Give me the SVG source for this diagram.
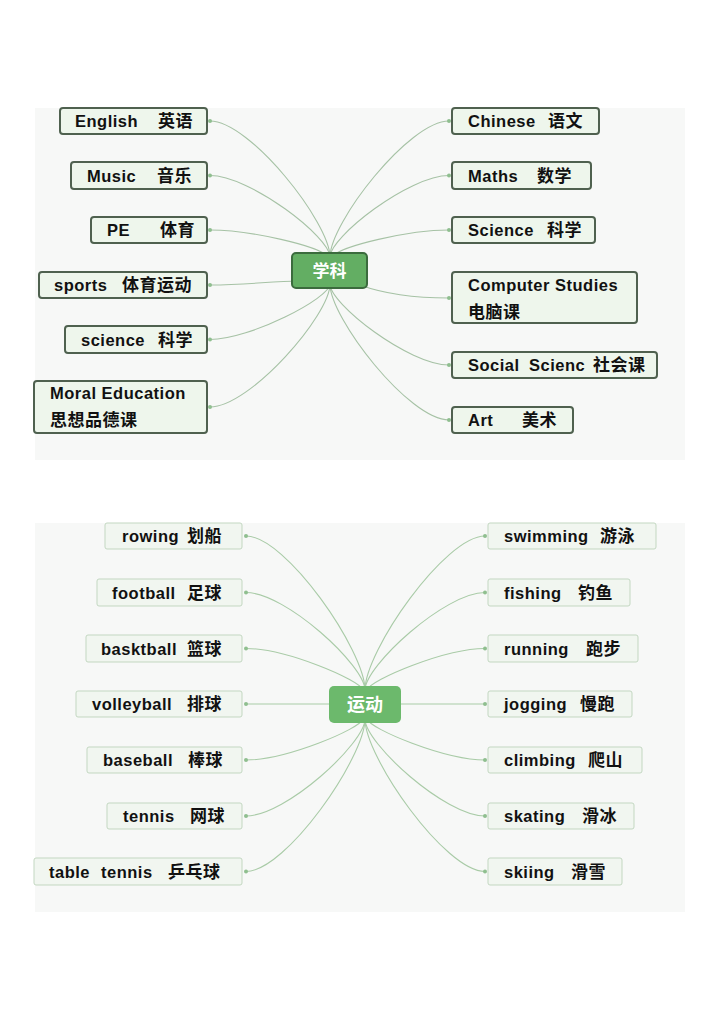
<svg xmlns="http://www.w3.org/2000/svg" width="720" height="1018" viewBox="0 0 720 1018">
<style>
.bg{fill:#f7f8f7}
.n1{fill:#eef6ec;stroke:#4f614f;stroke-width:2}
.n2{fill:#f1f6f0;stroke:#c3d7c1;stroke-width:1}
.t{font-family:"Liberation Sans","Noto Sans CJK SC",sans-serif;font-weight:bold;font-size:16.5px;letter-spacing:0.5px;fill:#111}
.cn{font-family:"Noto Sans CJK SC","Liberation Sans",sans-serif;font-weight:bold;font-size:17px;letter-spacing:0.5px;fill:#111}
.ct{font-family:"Noto Sans CJK SC",sans-serif;font-weight:bold;fill:#fff;text-anchor:middle}
.c1{fill:none;stroke:#a6c2a5;stroke-width:1.1}
.c2{fill:none;stroke:#a9cba7;stroke-width:1.1}
.d{fill:#8fbf8f}
</style>
<rect width="720" height="1018" fill="#ffffff"/>
<rect class="bg" x="35" y="108" width="650" height="352"/>
<rect class="bg" x="35" y="523" width="650" height="389"/>

<g id="connectors">
<path class="c1" d="M210,121 C250,121 330,223 330,257"/>
<path class="c1" d="M210,175.5 C250,175.5 330,237 330,257"/>
<path class="c1" d="M210,230 C250,230 320,246 328,257"/>
<path class="c1" d="M210,285 C250,285 270,281 300,281"/>
<path class="c1" d="M210,339.5 C250,339.5 330,298 330,284"/>
<path class="c1" d="M210,407 C250,407 330,315 330,284"/>
<path class="c1" d="M449,121 C409,121 330,223 330,257"/>
<path class="c1" d="M449,175.5 C409,175.5 330,237 330,257"/>
<path class="c1" d="M449,230 C409,230 340,246 332,257"/>
<path class="c1" d="M449,298 C420,298 390,296 360,285"/>
<path class="c1" d="M449,365 C409,365 330,304 330,284"/>
<path class="c1" d="M449,420 C409,420 330,318 330,284"/>
<circle class="d" cx="210" cy="121" r="2"/>
<circle class="d" cx="210" cy="175.5" r="2"/>
<circle class="d" cx="210" cy="230" r="2"/>
<circle class="d" cx="210" cy="285" r="2"/>
<circle class="d" cx="210" cy="339.5" r="2"/>
<circle class="d" cx="210" cy="407" r="2"/>
<circle class="d" cx="449" cy="121" r="2"/>
<circle class="d" cx="449" cy="175.5" r="2"/>
<circle class="d" cx="449" cy="230" r="2"/>
<circle class="d" cx="449" cy="298" r="2"/>
<circle class="d" cx="449" cy="365" r="2"/>
<circle class="d" cx="449" cy="420" r="2"/>

<path class="c2" d="M246,536 C286,536 365,651 365,690"/>
<path class="c2" d="M246,592.5 C286,592.5 365,666 365,690"/>
<path class="c2" d="M246,648.5 C286,648.5 360,680 363,690"/>
<path class="c2" d="M246,704 L333,704"/>
<path class="c2" d="M246,760 C286,760 360,729 363,719"/>
<path class="c2" d="M246,816 C286,816 365,743 365,719"/>
<path class="c2" d="M246,871.5 C286,871.5 365,757 365,719"/>
<path class="c2" d="M485,536 C445,536 365,651 365,690"/>
<path class="c2" d="M485,592.5 C445,592.5 365,666 365,690"/>
<path class="c2" d="M485,648.5 C445,648.5 370,680 367,690"/>
<path class="c2" d="M485,704 L397,704"/>
<path class="c2" d="M485,760 C445,760 370,729 367,719"/>
<path class="c2" d="M485,816 C445,816 365,743 365,719"/>
<path class="c2" d="M485,871.5 C445,871.5 365,757 365,719"/>
<circle class="d" cx="246" cy="536" r="2"/>
<circle class="d" cx="246" cy="592.5" r="2"/>
<circle class="d" cx="246" cy="648.5" r="2"/>
<circle class="d" cx="246" cy="704" r="2"/>
<circle class="d" cx="246" cy="760" r="2"/>
<circle class="d" cx="246" cy="816" r="2"/>
<circle class="d" cx="246" cy="871.5" r="2"/>
<circle class="d" cx="485" cy="536" r="2"/>
<circle class="d" cx="485" cy="592.5" r="2"/>
<circle class="d" cx="485" cy="648.5" r="2"/>
<circle class="d" cx="485" cy="704" r="2"/>
<circle class="d" cx="485" cy="760" r="2"/>
<circle class="d" cx="485" cy="816" r="2"/>
<circle class="d" cx="485" cy="871.5" r="2"/>
</g>

<g id="xueke">
<rect x="292" y="253" width="75" height="35" rx="4" fill="#63ae63" stroke="#3b6b3d" stroke-width="2"/>
<text class="ct" x="329.5" y="276.5" font-size="17">学科</text>
</g>

<g id="english"><rect class="n1" x="60" y="108" width="147" height="26" rx="3"/><text class="t" x="75" y="127">English</text><text class="cn" x="158" y="127">英语</text></g>
<g id="music"><rect class="n1" x="71" y="162" width="136" height="27" rx="3"/><text class="t" x="87" y="181.5">Music</text><text class="cn" x="157" y="181.5">音乐</text></g>
<g id="pe"><rect class="n1" x="91" y="217" width="116" height="26" rx="3"/><text class="t" x="107" y="236">PE</text><text class="cn" x="160" y="236">体育</text></g>
<g id="sports"><rect class="n1" x="39" y="272" width="168" height="26" rx="3"/><text class="t" x="54" y="291">sports</text><text class="cn" x="122" y="291">体育运动</text></g>
<g id="science-l"><rect class="n1" x="65" y="326" width="142" height="27" rx="3"/><text class="t" x="81" y="345.5">science</text><text class="cn" x="158" y="345.5">科学</text></g>
<g id="moral"><rect class="n1" x="34" y="381" width="173" height="52" rx="3"/><text class="t" x="50" y="399">Moral Education</text><text class="cn" x="50" y="426">思想品德课</text></g>

<g id="chinese"><rect class="n1" x="452" y="108" width="147" height="26" rx="3"/><text class="t" x="468" y="127">Chinese</text><text class="cn" x="548" y="127">语文</text></g>
<g id="maths"><rect class="n1" x="452" y="162" width="139" height="27" rx="3"/><text class="t" x="468" y="181.5">Maths</text><text class="cn" x="537" y="181.5">数学</text></g>
<g id="science-r"><rect class="n1" x="452" y="217" width="143" height="26" rx="3"/><text class="t" x="468" y="236">Science</text><text class="cn" x="547" y="236">科学</text></g>
<g id="computer"><rect class="n1" x="452" y="272" width="185" height="51" rx="3"/><text class="t" x="468" y="291">Computer Studies</text><text class="cn" x="468" y="318">电脑课</text></g>
<g id="social"><rect class="n1" x="452" y="352" width="205" height="26" rx="3"/><text class="t" x="468" y="371">Social</text><text class="t" x="529" y="371">Scienc</text><text class="cn" x="593" y="371">社会课</text></g>
<g id="art"><rect class="n1" x="452" y="407" width="121" height="26" rx="3"/><text class="t" x="468" y="426">Art</text><text class="cn" x="522" y="426">美术</text></g>

<g id="yundong">
<rect x="329" y="686" width="72" height="37" rx="5" fill="#6cb96c"/>
<text class="ct" x="365" y="710.5" font-size="18">运动</text>
</g>

<g id="rowing"><rect class="n2" x="105" y="523" width="137" height="26" rx="2"/><text class="t" x="122" y="542">rowing</text><text class="cn" x="187" y="542">划船</text></g>
<g id="football"><rect class="n2" x="97" y="579" width="145" height="27" rx="2"/><text class="t" x="112" y="598.5">football</text><text class="cn" x="187" y="598.5">足球</text></g>
<g id="basktball"><rect class="n2" x="86" y="635" width="156" height="27" rx="2"/><text class="t" x="101" y="654.5">basktball</text><text class="cn" x="187" y="654.5">篮球</text></g>
<g id="volleyball"><rect class="n2" x="76" y="691" width="166" height="26" rx="2"/><text class="t" x="92" y="710">volleyball</text><text class="cn" x="187" y="710">排球</text></g>
<g id="baseball"><rect class="n2" x="87" y="747" width="155" height="26" rx="2"/><text class="t" x="103" y="766">baseball</text><text class="cn" x="188" y="766">棒球</text></g>
<g id="tennis"><rect class="n2" x="107" y="803" width="135" height="26" rx="2"/><text class="t" x="123" y="822">tennis</text><text class="cn" x="190" y="822">网球</text></g>
<g id="tabletennis"><rect class="n2" x="34" y="858" width="208" height="27" rx="2"/><text class="t" x="49" y="877.5">table</text><text class="t" x="101" y="877.5">tennis</text><text class="cn" x="168" y="877.5">乒乓球</text></g>

<g id="swimming"><rect class="n2" x="488" y="523" width="168" height="26" rx="2"/><text class="t" x="504" y="542">swimming</text><text class="cn" x="600" y="542">游泳</text></g>
<g id="fishing"><rect class="n2" x="488" y="579" width="142" height="27" rx="2"/><text class="t" x="504" y="598.5">fishing</text><text class="cn" x="578" y="598.5">钓鱼</text></g>
<g id="running"><rect class="n2" x="488" y="635" width="150" height="27" rx="2"/><text class="t" x="504" y="654.5">running</text><text class="cn" x="586" y="654.5">跑步</text></g>
<g id="jogging"><rect class="n2" x="488" y="691" width="144" height="26" rx="2"/><text class="t" x="504" y="710">jogging</text><text class="cn" x="580" y="710">慢跑</text></g>
<g id="climbing"><rect class="n2" x="488" y="747" width="154" height="26" rx="2"/><text class="t" x="504" y="766">climbing</text><text class="cn" x="588" y="766">爬山</text></g>
<g id="skating"><rect class="n2" x="488" y="803" width="146" height="26" rx="2"/><text class="t" x="504" y="822">skating</text><text class="cn" x="582" y="822">滑冰</text></g>
<g id="skiing"><rect class="n2" x="488" y="858" width="134" height="27" rx="2"/><text class="t" x="504" y="877.5">skiing</text><text class="cn" x="571" y="877.5">滑雪</text></g>
</svg>
